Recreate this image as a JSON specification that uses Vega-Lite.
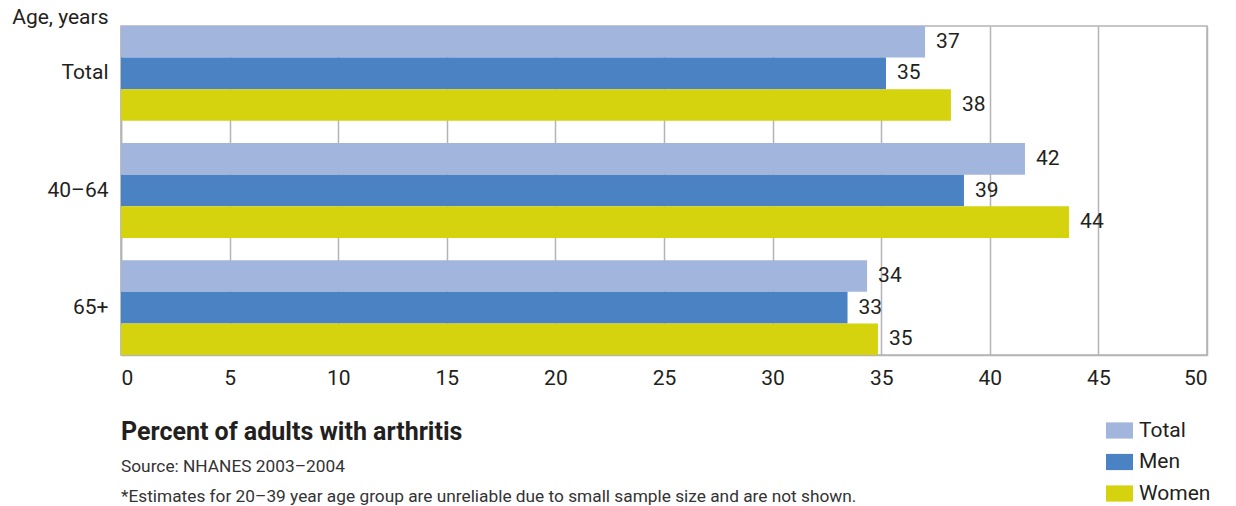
{
  "$schema": "https://vega.github.io/schema/vega-lite/v6.json",
  "autosize": {"type": "none"},
  "padding": {"left": 121, "top": 26, "right": 29, "bottom": 151},
  "width": 1086,
  "height": 329,
  "background": "white",
  "config": {
    "font": "Roboto",
    "view": {"stroke": "#b4b4b4", "strokeWidth": 1.5}
  },
  "title": {
    "text": "Percent of adults with arthritis",
    "subtitle": ["Source: NHANES 2003–2004", "*Estimates for 20–39 year age group are unreliable due to small sample size and are not shown."],
    "orient": "bottom",
    "anchor": "start",
    "frame": "group",
    "offset": -84,
    "font": "Roboto",
    "fontSize": 25,
    "fontWeight": "bold",
    "color": "#231f20",
    "subtitleFont": "Roboto",
    "subtitleFontSize": 17.3,
    "subtitleColor": "#333333",
    "subtitleLineHeight": 29.5,
    "subtitlePadding": 13
  },
  "data": {
    "values": [
      {"age": "Total", "series": "Total", "pct": 37.02},
      {"age": "Total", "series": "Men", "pct": 35.22},
      {"age": "Total", "series": "Women", "pct": 38.21},
      {"age": "40–64", "series": "Total", "pct": 41.62},
      {"age": "40–64", "series": "Men", "pct": 38.81},
      {"age": "40–64", "series": "Women", "pct": 43.65},
      {"age": "65+", "series": "Total", "pct": 34.35},
      {"age": "65+", "series": "Men", "pct": 33.45},
      {"age": "65+", "series": "Women", "pct": 34.85}
    ]
  },
  "encoding": {
    "y": {
      "field": "age",
      "type": "nominal",
      "sort": ["Total", "40–64", "65+"],
      "scale": {"paddingInner": 0.19, "paddingOuter": 0},
      "axis": {
        "title": "Age, years",
        "titleAngle": 0,
        "titleAlign": "right",
        "titleBaseline": "alphabetic",
        "titleX": -13,
        "titleY": -3,
        "titleFontSize": 21,
        "titleFontWeight": "normal",
        "titleColor": "#231f20",
        "labelFontSize": 21,
        "labelColor": "#231f20",
        "labelPadding": 13,
        "ticks": false,
        "domainColor": "#b4b4b4",
        "domainWidth": 1.5,
        "grid": false
      }
    },
    "yOffset": {
      "field": "series",
      "type": "nominal",
      "sort": ["Total", "Men", "Women"],
      "scale": {"paddingInner": 0, "paddingOuter": 0}
    },
    "x": {
      "field": "pct",
      "type": "quantitative",
      "scale": {"domain": [0, 50], "nice": false},
      "axis": {
        "title": null,
        "values": [0, 5, 10, 15, 20, 25, 30, 35, 40, 45, 50],
        "labelFontSize": 21,
        "labelColor": "#231f20",
        "labelPadding": 12,
        "ticks": false,
        "domainColor": "#b4b4b4",
        "domainWidth": 1.5,
        "gridColor": "#b4b4b4",
        "gridWidth": 1.5
      }
    }
  },
  "layer": [
    {
      "mark": {"type": "bar"},
      "encoding": {
        "color": {
          "field": "series",
          "type": "nominal",
          "sort": ["Total", "Men", "Women"],
          "scale": {"domain": ["Total", "Men", "Women"], "range": ["#a2b5dc", "#4a82c3", "#d5d20e"]},
          "legend": {
            "title": null,
            "orient": "none",
            "legendX": 985,
            "legendY": 391,
            "symbolType": "M-1,-0.6H1V0.6H-1Z",
            "symbolSize": 729,
            "symbolStrokeWidth": 0,
            "labelFontSize": 21,
            "labelColor": "#231f20",
            "labelOffset": 6,
            "rowPadding": 7.5
          }
        }
      }
    },
    {
      "mark": {"type": "text", "align": "left", "baseline": "middle", "dx": 11, "fontSize": 21, "color": "#231f20"},
      "encoding": {
        "text": {"field": "pct", "type": "quantitative", "format": ".0f"}
      }
    }
  ]
}
